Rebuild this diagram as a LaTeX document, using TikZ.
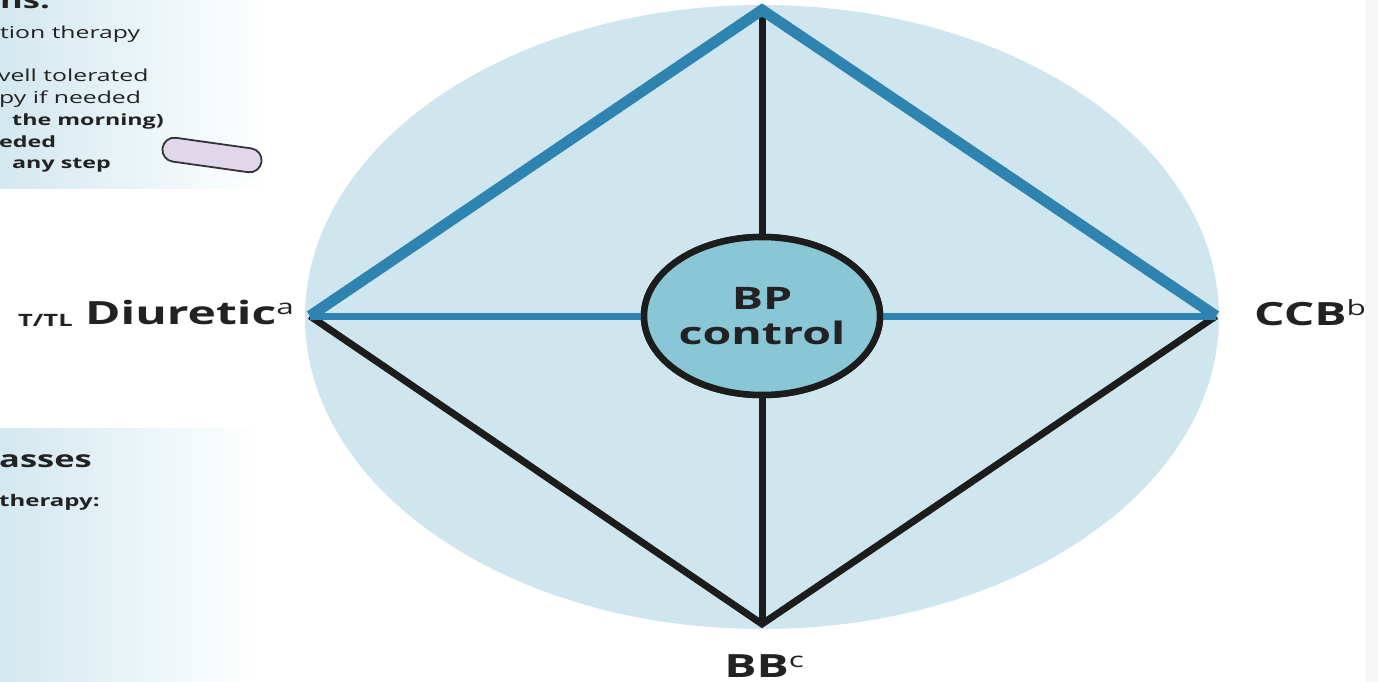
\documentclass[tikz,border=0pt]{standalone}
\usepackage{fontspec}
\newfontfamily\wf{Open Sans}[FakeStretch=1.5]
\usetikzlibrary{shapes.geometric}
\definecolor{ellbg}{HTML}{D0E6EE}
\definecolor{circfill}{HTML}{89C7D6}
\definecolor{bpblue}{HTML}{2F83B1}
\definecolor{lineblk}{HTML}{1C1C1C}
\definecolor{panel}{HTML}{D3E8EF}
\definecolor{pillfill}{HTML}{E1D7EB}
\definecolor{txt}{HTML}{222222}
\newcommand{\supx}[1]{\raisebox{10pt}{\mdseries\fontsize{21}{21}\selectfont #1}}
\tikzset{
  lab/.style={inner sep=0pt, text=txt, font=\wf\bfseries\fontsize{32}{36}\selectfont},
  smalltxt/.style={inner sep=0pt, anchor=base west, text=txt, font=\wf\fontsize{16.5}{19}\selectfont},
  smallbold/.style={inner sep=0pt, anchor=base west, text=txt, font=\wf\bfseries\fontsize{15.5}{18}\selectfont},
  headbold/.style={inner sep=0pt, anchor=base west, text=txt, font=\wf\bfseries\fontsize{23}{27}\selectfont},
  blueedge/.style={draw=bpblue, line width=11pt, line join=miter},
  bluespoke/.style={draw=bpblue, line width=7pt},
  blkedge/.style={draw=lineblk, line width=7pt, line join=miter},
  hub/.style={ellipse, draw=lineblk, line width=6.5pt, fill=circfill, minimum width=236pt, minimum height=158pt, inner sep=0pt, align=center, text=txt, font=\wf\bfseries\fontsize{31}{35}\selectfont},
  pillshape/.style={draw=black!80, line width=1.8pt, fill=pillfill, minimum width=100pt, minimum height=24pt, rounded corners=12pt, inner sep=0pt}
}
\begin{document}
\begin{tikzpicture}[x=1pt,y=-1pt]
\useasboundingbox (0,0) rectangle (1378,682);
\fill[white] (0,0) rectangle (1378,682);
\fill[black!3] (1365,0) rectangle (1378,682);
\clip (0,0) rectangle (1378,682);
% side panels
\shade[left color=panel, right color=white] (0,0) rectangle (268,188);
\shade[left color=panel, right color=white] (0,428) rectangle (262,682);
% big background ellipse
\fill[ellbg] (762,317) ellipse [x radius=457, y radius=312];
% vertices
\coordinate (T) at (762,10);
\coordinate (L) at (310,316);
\coordinate (R) at (1216,316);
\coordinate (B) at (762,624);
% hub
\node[hub] (hub) at (762,316) {BP\\control};
% black connectors
\draw[blkedge] (T) -- (hub.north);
\draw[blkedge] (hub.south) -- (B);
\draw[blkedge] (L) -- (B) -- (R);
% blue connectors
\draw[bluespoke] (L) -- (hub.west);
\draw[bluespoke] (hub.east) -- (R);
\draw[blueedge] (L) -- (T) -- (R);
% redraw hub on top
\node[hub] at (762,316) {BP\\control};
% labels
\node[lab, anchor=base west] (diu) at (85,324) {Diuretic\supx{a}};
\node[inner sep=0pt, anchor=base west, text=txt, font=\wf\bfseries\fontsize{17}{20}\selectfont] (ttl) at (18,326) {T/TL};
\node[lab, anchor=base west] (ccb) at (1254,325) {CCB\supx{b}};
\node[lab, anchor=base] (bb) at (764,677) {BB\supx{c}};
% left panel texts
\node[headbold] (t0) at (0,9) {ns:};
\node[smalltxt] (t1) at (0,39) {tion therapy};
\node[smalltxt] (t2) at (-2,82) {vell tolerated};
\node[smalltxt] (t3) at (-1,104) {py if needed};
\node[smallbold] (t4) at (12,126) {the morning)};
\node[smallbold] (t5) at (-1,147) {eded};
\node[smallbold] (t6) at (12,168) {any step};
\node[headbold] (t7) at (-1,467) {asses};
\node[smallbold, font=\wf\bfseries\fontsize{16}{18}\selectfont] (t8) at (-1,506) {therapy:};
% pill
\node[pillshape, rotate=-8] (pill) at (212,155) {};
\end{tikzpicture}
\end{document}
